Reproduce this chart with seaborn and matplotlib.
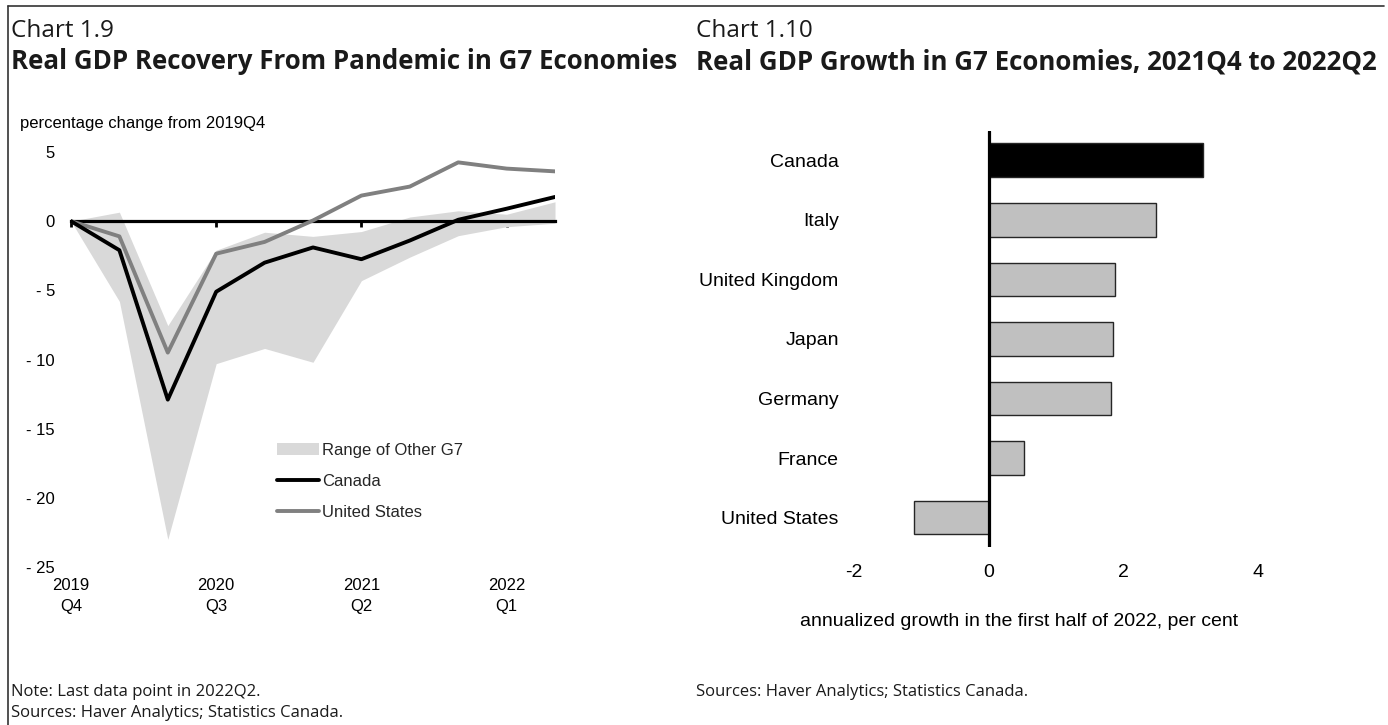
import numpy as np
import matplotlib
matplotlib.use("Agg")
import matplotlib.pyplot as plt
from matplotlib.lines import Line2D
import seaborn as sns

# ---- Chart 1.9: real GDP, percentage change from 2019Q4 ----
quarters = ["2019Q4", "2020Q1", "2020Q2", "2020Q3", "2020Q4", "2021Q1",
            "2021Q2", "2021Q3", "2021Q4", "2022Q1", "2022Q2"]
canada = [0.0, -2.1, -12.9, -5.1, -3.0, -1.9, -2.75, -1.4, 0.1, 0.9, 1.75]
united_states = [0.0, -1.1, -9.5, -2.35, -1.5, 0.05, 1.85, 2.5, 4.25, 3.8, 3.6]
other_g7_high = [0.0, 0.65, -7.55, -2.1, -0.8, -1.1, -0.75, 0.3, 0.75, 0.5, 1.4]
other_g7_low = [0.0, -5.8, -23.0, -10.3, -9.2, -10.2, -4.3, -2.6, -1.05, -0.4, -0.15]
x_tick_pos = [0, 3, 6, 9]
x_tick_labels = ["2019\nQ4", "2020\nQ3", "2021\nQ2", "2022\nQ1"]
y_ticks = [5, 0, -5, -10, -15, -20, -25]
y_tick_labels = ["5", "0", "- 5", "- 10", "- 15", "- 20", "- 25"]

# ---- Chart 1.10: annualized growth, first half of 2022 ----
countries = ["Canada", "Italy", "United Kingdom", "Japan", "Germany",
             "France", "United States"]
growth = [3.19, 2.49, 1.87, 1.84, 1.82, 0.52, -1.11]
bar_ticks = [-2, 0, 2, 4]

sns.set_theme(style="white")
plt.rcParams["font.family"] = ["Liberation Sans", "DejaVu Sans"]

W, H = 1388, 725
fig = plt.figure(figsize=(W / 100, H / 100), dpi=100)


def fx(px):
    return px / W


def fy(py):
    return 1 - py / H


title_font = ["Open Sans", "DejaVu Sans"]
LEFT_FS = 12
RIGHT_FS = 14

# panel frame
fig.add_artist(Line2D([fx(8), fx(1384)], [fy(6), fy(6)], color="#333333", lw=1.2))
fig.add_artist(Line2D([fx(8), fx(8)], [fy(6), fy(725)], color="#333333", lw=1.2))

# titles
fig.text(fx(11), fy(37), "Chart 1.9", family=title_font, fontsize=17.5,
         va="baseline", color="#1a1a1a")
fig.text(fx(11), fy(69), "Real GDP Recovery From Pandemic in G7 Economies",
         family=title_font, fontsize=18.6, fontweight="bold", va="baseline",
         color="#1a1a1a")
fig.text(fx(696), fy(37), "Chart 1.10", family=title_font, fontsize=17.5,
         va="baseline", color="#1a1a1a")
fig.text(fx(696), fy(69), "Real GDP Growth in G7 Economies, 2021Q4 to 2022Q2",
         family=title_font, fontsize=18.6, fontweight="bold", va="baseline",
         color="#1a1a1a")

# notes
fig.text(fx(11), fy(696), "Note: Last data point in 2022Q2.", family=title_font,
         fontsize=12, va="baseline", color="#1a1a1a")
fig.text(fx(11), fy(717), "Sources: Haver Analytics; Statistics Canada.",
         family=title_font, fontsize=12, va="baseline", color="#1a1a1a")
fig.text(fx(696), fy(696), "Sources: Haver Analytics; Statistics Canada.",
         family=title_font, fontsize=12, va="baseline", color="#1a1a1a")

# ---------------- left panel ----------------
ax1 = fig.add_axes([fx(71), fy(567), fx(555) - fx(71), fy(152) - fy(567)])
xq = np.arange(len(quarters))
ax1.fill_between(xq, other_g7_low, other_g7_high, color="#D9D9D9", lw=0,
                 label="Range of Other G7", zorder=1)
sns.lineplot(x=xq, y=canada, ax=ax1, color="black", lw=2.8, label="Canada",
             zorder=4)
sns.lineplot(x=xq, y=united_states, ax=ax1, color="#808080", lw=2.8,
             label="United States", zorder=3)
ax1.set_xlim(0, len(quarters) - 1)
ax1.set_ylim(-25, 5)

for s in ["top", "right", "left"]:
    ax1.spines[s].set_visible(False)
ax1.spines["bottom"].set_position(("data", 0))
ax1.spines["bottom"].set_color("black")
ax1.spines["bottom"].set_linewidth(2.3)
ax1.spines["bottom"].set_zorder(2)
ax1.set_xticks(x_tick_pos)
ax1.tick_params(axis="x", direction="out", length=4, width=2, color="black",
                labelbottom=False, bottom=True)
ax1.set_yticks(y_ticks)
ax1.set_yticklabels(y_tick_labels, fontsize=LEFT_FS, color="black")
ax1.tick_params(axis="y", length=0, pad=11.5)
ax1.set_xlabel("")
ax1.set_ylabel("")

sec = ax1.secondary_xaxis(0)
sec.spines["bottom"].set_visible(False)
sec.set_xticks(x_tick_pos)
sec.set_xticklabels(x_tick_labels, fontsize=LEFT_FS, color="black",
                    linespacing=1.45)
sec.tick_params(axis="x", length=0, pad=8)

fig.text(fx(20), fy(128), "percentage change from 2019Q4", fontsize=LEFT_FS,
         va="baseline", color="black")

leg = ax1.legend(loc="upper left", bbox_to_anchor=(fx(277), fy(443)),
                 bbox_transform=fig.transFigure, frameon=False,
                 fontsize=LEFT_FS, handlelength=2.5, handletextpad=0.2,
                 labelspacing=0.95, borderpad=0, borderaxespad=0)

# ---------------- right panel ----------------
ax2 = fig.add_axes([fx(854), fy(547.4), fx(1258) - fx(854), fy(130.5) - fy(547.4)])
bar_colors = {c: ("#000000" if c == "Canada" else "#C0C0C0") for c in countries}
sns.barplot(x=growth, y=countries, hue=countries, palette=bar_colors,
            legend=False, orient="h", width=0.565, edgecolor="#262626",
            linewidth=1, saturation=1, ax=ax2)
ax2.axvline(0, color="black", lw=2.3, zorder=5)
ax2.set_xlim(-2, 4)
ax2.set_ylim(len(countries) - 0.5, -0.5)
for s in ax2.spines.values():
    s.set_visible(False)
ax2.set_xticks(bar_ticks)
ax2.set_xticklabels([str(t) for t in bar_ticks], fontsize=RIGHT_FS, color="black")
ax2.tick_params(axis="x", length=0, pad=12)
ax2.tick_params(axis="y", length=0, pad=11, labelsize=RIGHT_FS, labelcolor="black")
ax2.set_xlabel("")
ax2.set_ylabel("")

fig.text(fx(1019), fy(626), "annualized growth in the first half of 2022, per cent",
         fontsize=RIGHT_FS, ha="center", va="baseline", color="black")

fig.savefig("out.png", dpi=100, facecolor="white")
